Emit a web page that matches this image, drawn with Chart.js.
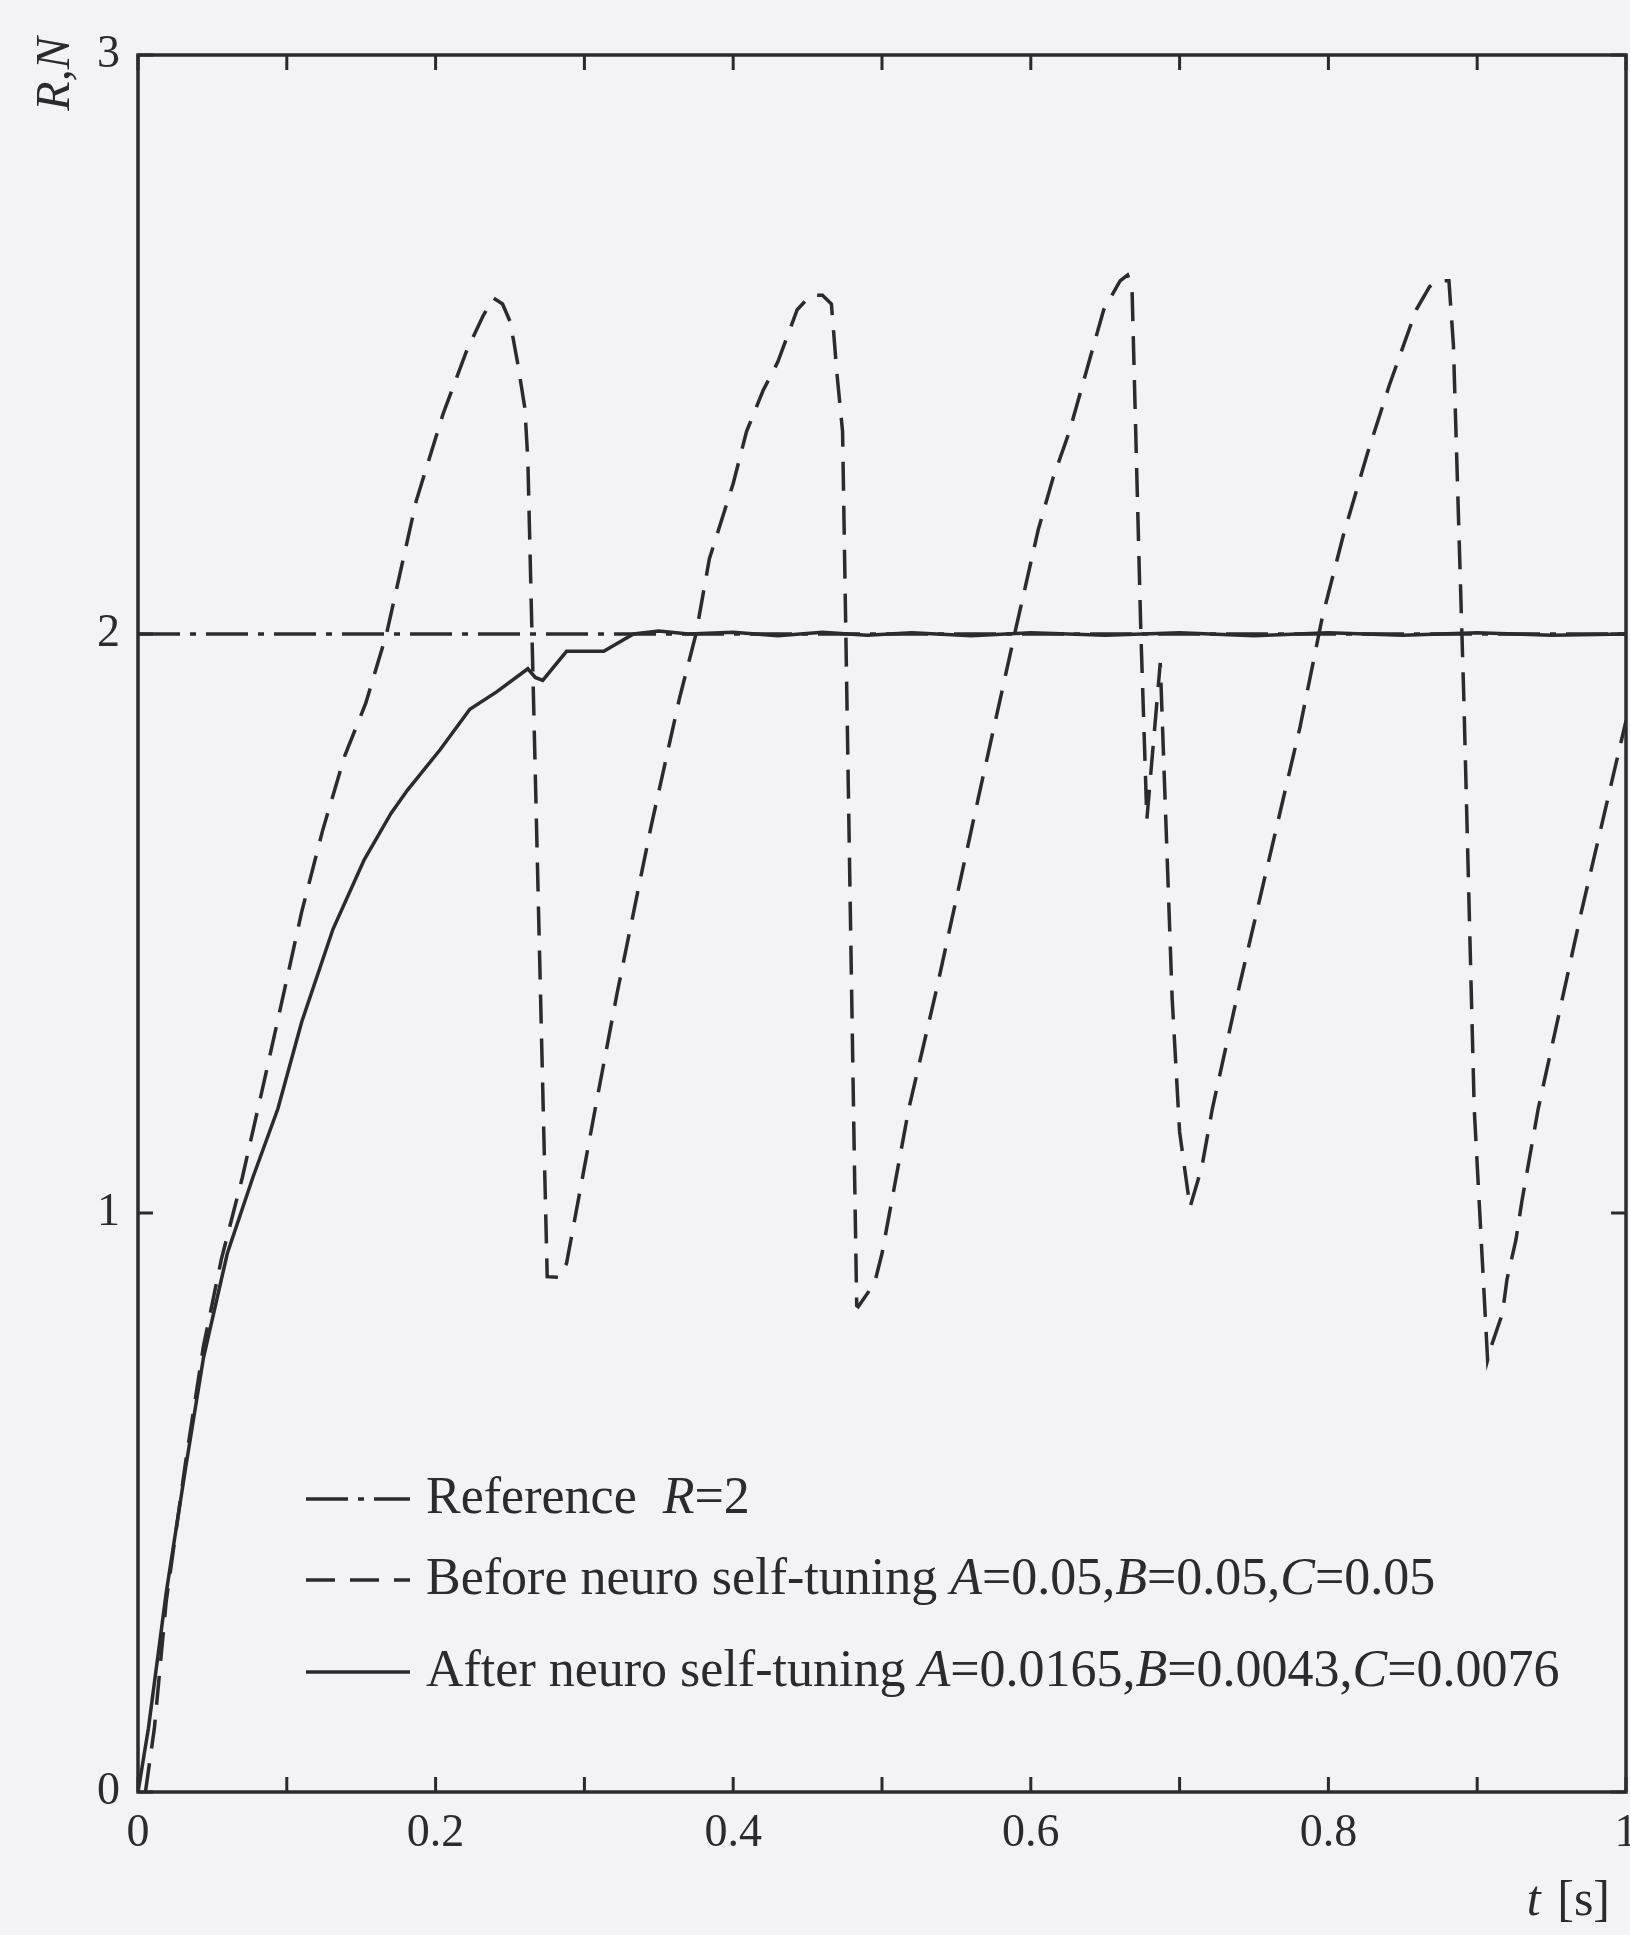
<!DOCTYPE html>
<html>
<head>
<meta charset="utf-8">
<script src="https://cdn.jsdelivr.net/npm/chart.js@4.4.1/dist/chart.umd.min.js"></script>
<style>
  html, body { margin: 0; padding: 0; background: #f3f3f5; }
  #wrap { width: 1630px; height: 1935px; position: relative; }
</style>
</head>
<body>
<div id="wrap"><canvas id="c"></canvas></div>
<script>
// --- values (t in s) ---
const refT = [0, 1];
const refR = [2, 2];

// before neuro self-tuning (dashed)
const beforeT = [0.005, 0.011, 0.019, 0.032, 0.044, 0.056, 0.07, 0.085, 0.098, 0.11, 0.124, 0.139, 0.153, 0.167,
  0.187, 0.205, 0.221, 0.232, 0.239, 0.245, 0.25, 0.255, 0.26, 0.262, 0.275, 0.283, 0.288, 0.308, 0.322, 0.345,
  0.364, 0.375, 0.384, 0.40, 0.409, 0.42, 0.43, 0.443, 0.452, 0.46, 0.466, 0.4697, 0.4735, 0.483, 0.484, 0.495,
  0.50, 0.518, 0.537, 0.565, 0.59, 0.605, 0.615, 0.626, 0.638, 0.649, 0.66, 0.665, 0.668, 0.674, 0.678, 0.682,
  0.687, 0.695, 0.70, 0.707, 0.715, 0.722, 0.74, 0.781, 0.796, 0.81, 0.826, 0.841, 0.859, 0.868, 0.873, 0.881,
  0.884, 0.891, 0.898, 0.907, 0.91, 0.917, 0.92, 0.926, 0.93, 0.941, 0.97, 1.0];
const beforeN = [0, 0.11, 0.33, 0.57, 0.77, 0.92, 1.06, 1.23, 1.38, 1.52, 1.66, 1.79, 1.88, 2.0,
  2.23, 2.38, 2.49, 2.55, 2.58, 2.57, 2.54, 2.47, 2.39, 2.3, 0.89, 0.889, 0.913, 1.19, 1.38, 1.67,
  1.89, 2.0, 2.13, 2.26, 2.35, 2.42, 2.47, 2.56, 2.585, 2.585, 2.57, 2.45, 2.35, 0.84, 0.838, 0.879,
  0.93, 1.18, 1.39, 1.72, 2.01, 2.18, 2.27, 2.35, 2.46, 2.56, 2.61, 2.62, 2.6, 2.0, 1.68, 1.8,
  1.95, 1.37, 1.14, 1.01, 1.08, 1.18, 1.39, 1.84, 2.03, 2.17, 2.31, 2.43, 2.56, 2.6, 2.61, 2.61,
  2.5, 1.89, 1.18, 0.746, 0.774, 0.827, 0.885, 0.953, 1.02, 1.18, 1.52, 1.85];

// after neuro self-tuning (solid)
const afterT = [0, 0.007, 0.019, 0.032, 0.044, 0.06, 0.077, 0.094, 0.11, 0.131, 0.152, 0.17, 0.181, 0.203,
  0.223, 0.241, 0.262, 0.267, 0.272, 0.288, 0.313, 0.333, 0.35, 0.37, 0.40, 0.43, 0.46, 0.49, 0.52, 0.56,
  0.6, 0.65, 0.7, 0.75, 0.8, 0.85, 0.9, 0.95, 1.0];
const afterN = [0, 0.11, 0.345, 0.56, 0.75, 0.93, 1.06, 1.18, 1.33, 1.49, 1.61, 1.69, 1.73, 1.80,
  1.87, 1.90, 1.94, 1.925, 1.92, 1.97, 1.97, 2.0, 2.005, 2.0, 2.003, 1.997, 2.003, 1.998, 2.002, 1.997,
  2.002, 1.998, 2.002, 1.997, 2.002, 1.998, 2.002, 1.998, 2.0];

const seriesLabels = [
  'Reference  R=2',
  'Before neuro self-tuning A=0.05,B=0.05,C=0.05',
  'After neuro self-tuning A=0.0165,B=0.0043,C=0.0076'
];

const ink = '#2a2a2f';
const serif = '"Liberation Serif", "DejaVu Serif", serif';
const pts = (xs, ys) => xs.map((x, i) => ({ x, y: ys[i] }));

// frame + inward ticks on all four sides
const frame = {
  id: 'frame',
  afterDatasetsDraw(chart) {
    const { ctx, chartArea: a, scales: { x, y } } = chart;
    ctx.save();
    ctx.strokeStyle = ink;
    ctx.lineWidth = 3.5;
    ctx.strokeRect(a.left, a.top, a.right - a.left, a.bottom - a.top);
    ctx.lineWidth = 3;
    ctx.beginPath();
    x.ticks.forEach(t => {
      const px = x.getPixelForValue(t.value);
      ctx.moveTo(px, a.bottom); ctx.lineTo(px, a.bottom - 15);
      ctx.moveTo(px, a.top); ctx.lineTo(px, a.top + 15);
    });
    y.ticks.forEach(t => {
      const py = y.getPixelForValue(t.value);
      ctx.moveTo(a.left, py); ctx.lineTo(a.left + 15, py);
      ctx.moveTo(a.right, py); ctx.lineTo(a.right - 15, py);
    });
    ctx.stroke();
    ctx.restore();
  }
};

// legend inside the plot, with italic symbols, plus axis titles
const annotate = {
  id: 'annotate',
  afterDraw(chart) {
    const { ctx, chartArea: a } = chart;
    const rows = [293, 212, 120];
    ctx.save();
    ctx.fillStyle = ink;
    ctx.textBaseline = 'middle';
    chart.data.datasets.forEach((ds, i) => {
      const yy = a.bottom - rows[i];
      const x0 = a.left + 168;
      ctx.strokeStyle = ds.borderColor;
      ctx.lineWidth = ds.borderWidth;
      ctx.setLineDash(ds.borderDash || []);
      ctx.beginPath(); ctx.moveTo(x0, yy); ctx.lineTo(x0 + 104, yy); ctx.stroke();
      ctx.setLineDash([]);
      let xx = x0 + 120;
      ds.label.split(/([ABCR])(?==)/).forEach((seg, k) => {
        if (!seg) return;
        ctx.font = (k % 2 ? 'italic ' : '') + '52px ' + serif;
        ctx.fillText(seg, xx, yy);
        xx += ctx.measureText(seg).width;
      });
    });

    // y title, rotated
    ctx.save();
    ctx.translate(56, 74);
    ctx.rotate(-Math.PI / 2);
    ctx.textAlign = 'center';
    ctx.font = 'italic 48px ' + serif;
    ctx.fillText('R,N', 0, 0);
    ctx.restore();

    // x title, right aligned under the axis
    ctx.textBaseline = 'alphabetic';
    ctx.font = '50px ' + serif;
    const rest = ' [s]';
    const wRest = ctx.measureText(rest).width;
    ctx.fillText(rest, 1610 - wRest, 1915);
    ctx.font = 'italic 50px ' + serif;
    const wT = ctx.measureText('t').width;
    ctx.fillText('t', 1610 - wRest - wT - 4, 1915);
    ctx.restore();
  }
};

new Chart(document.getElementById('c'), {
  type: 'line',
  data: {
    datasets: [
      { label: seriesLabels[0], data: pts(refT, refR), borderColor: ink, borderWidth: 3.5, borderDash: [42, 10, 6, 10] },
      { label: seriesLabels[1], data: pts(beforeT, beforeN), borderColor: ink, borderWidth: 3.5, borderDash: [29, 15] },
      { label: seriesLabels[2], data: pts(afterT, afterN), borderColor: ink, borderWidth: 3.5 }
    ]
  },
  options: {
    responsive: true, maintainAspectRatio: false, animation: false, events: [],
    layout: { padding: { top: 55, right: 4, left: 0, bottom: 0 } },
    elements: { point: { radius: 0 }, line: { tension: 0, fill: false } },
    plugins: { legend: { display: false }, tooltip: { enabled: false } },
    scales: {
      x: {
        type: 'linear', min: 0, max: 1,
        grid: { display: false, drawTicks: false }, border: { display: false },
        ticks: {
          stepSize: 0.1, autoSkip: false, maxRotation: 0, padding: 14, color: ink,
          font: { family: serif, size: 46 },
          callback: (v, i) => (i % 2 ? '' : String(Number(v.toFixed(1))))
        },
        afterFit: s => { s.height = 143; s.paddingLeft = 0; s.paddingRight = 0; }
      },
      y: {
        min: 0, max: 3,
        grid: { display: false, drawTicks: false }, border: { display: false },
        ticks: { stepSize: 1, padding: 18, color: ink, font: { family: serif, size: 46 } },
        afterFit: s => { s.width = 138; s.paddingTop = 0; s.paddingBottom = 0; }
      }
    }
  },
  plugins: [frame, annotate]
});
</script>
</body>
</html>
